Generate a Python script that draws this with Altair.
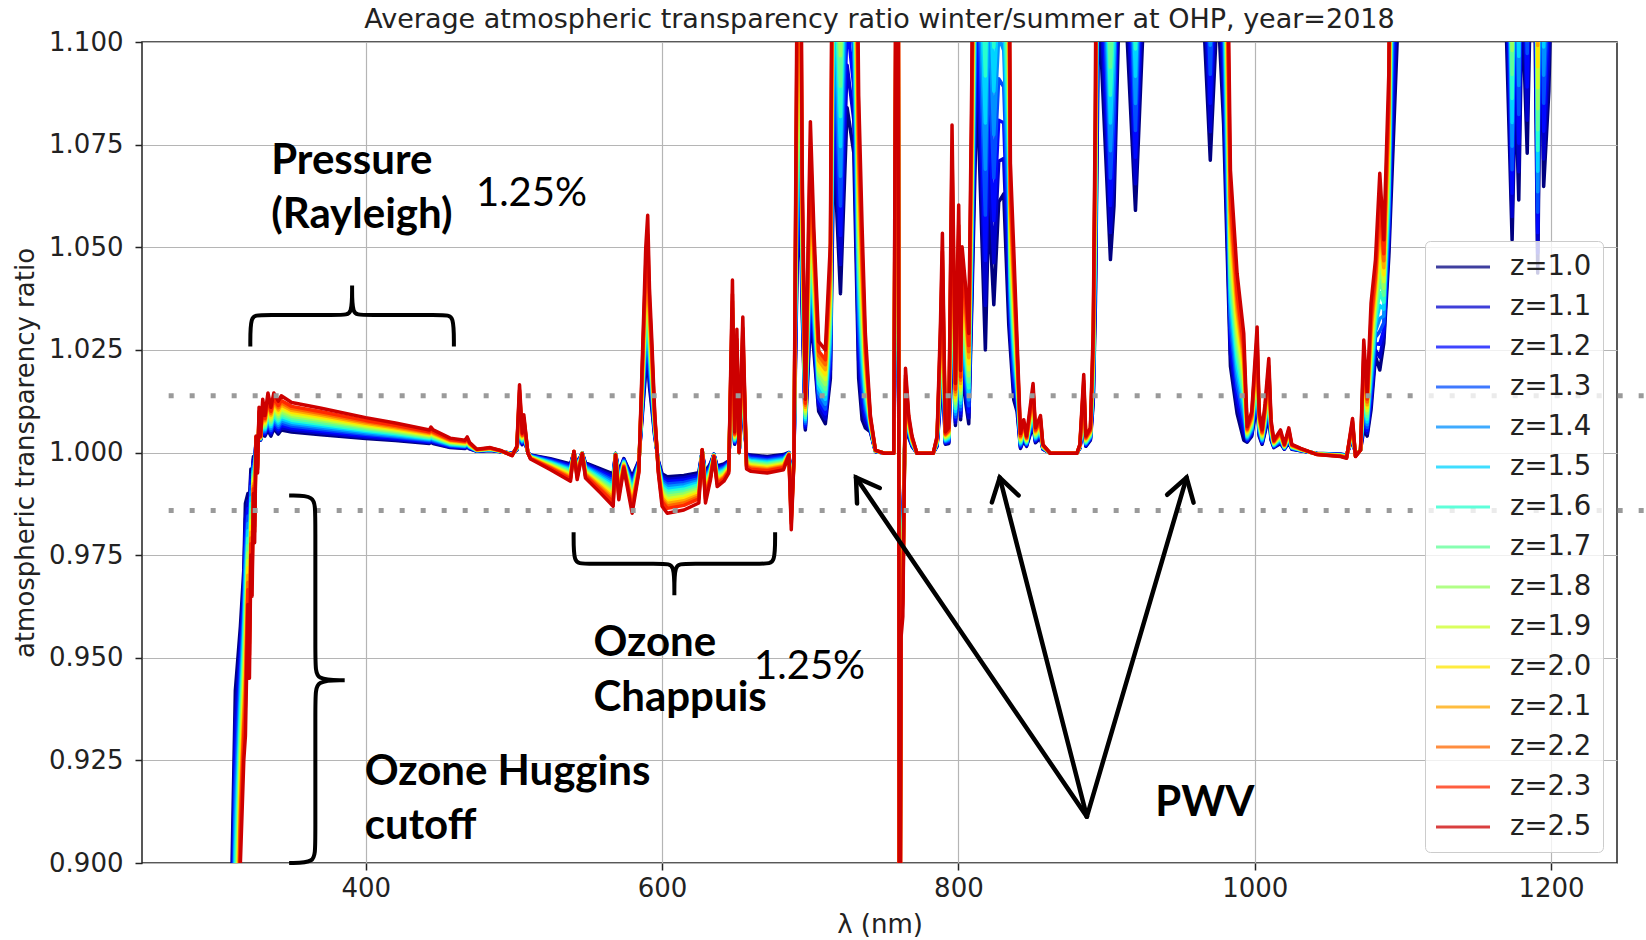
import math
import altair as alt
import pandas as pd

# ------------------------------------------------------------------ data
TITLE = "Average atmospheric transparency ratio winter/summer at OHP, year=2018"

airmass = [1.0, 1.1, 1.2, 1.3, 1.4, 1.5, 1.6, 1.7, 1.8, 1.9, 2.0, 2.1, 2.2, 2.3, 2.5]
series_labels = ["z=1.0", "z=1.1", "z=1.2", "z=1.3", "z=1.4", "z=1.5", "z=1.6", "z=1.7",
                 "z=1.8", "z=1.9", "z=2.0", "z=2.1", "z=2.2", "z=2.3", "z=2.5"]
series_colors = ["#000080", "#0000cd", "#0008ff", "#004dff", "#0090ff", "#00d4ff", "#29ffce",
                 "#60ff97", "#97ff60", "#ceff29", "#ffe600", "#ffa700", "#ff6800", "#ff2900",
                 "#cd0000"]

# wavelength (nm) and ratio read for the lowest (z=1.0) and highest (z=2.5) airmass
wavelength = [
    300.0, 309.8, 312.0, 315.4, 317.7, 318.8, 320.5, 321.5, 322.5, 323.3, 324.2, 325.0, 326.0,
    327.0, 328.0, 329.0, 330.5, 332.0, 334.0, 336.0, 338.0, 341.0, 343.0, 350.0, 370.0, 400.0,
    420.0, 443.0, 444.0, 445.5, 457.0, 467.0, 468.5, 470.0, 475.0, 484.0, 491.0, 498.8, 502.0,
    503.8, 505.6, 506.7, 509.4, 511.2, 524.7, 538.2, 540.5, 542.7, 546.1, 548.3, 558.5, 567.0,
    568.6, 570.8, 574.2, 579.8, 584.3, 587.3, 589.0, 590.3, 591.5, 593.0, 595.0, 597.5, 600.0,
    603.5, 614.7, 624.8, 627.1, 629.3, 632.7, 635.0, 637.2, 641.7, 645.0, 647.5, 649.0, 650.5,
    652.0, 654.5, 657.0, 660.0, 671.0, 682.0, 685.6, 687.2, 689.0, 691.2, 693.4, 694.5, 696.7,
    700.1, 702.4, 705.7, 710.2, 713.6, 715.9, 720.4, 724.9, 729.4, 732.7, 735.0, 737.2, 740.6,
    744.0, 750.0, 756.4, 758.6, 759.5, 760.3, 761.3, 762.5, 764.3, 766.5, 768.7, 772.0, 783.0,
    785.6, 787.9, 789.2, 791.2, 793.5, 795.7, 798.0, 800.2, 801.5, 802.5, 805.0, 807.0, 809.0,
    812.6, 818.2, 820.5, 823.9, 827.2, 830.6, 834.0, 835.1, 837.4, 839.6, 841.9, 844.1, 846.0,
    850.4, 852.0, 855.4, 857.0, 862.0, 880.0, 882.0, 884.6, 886.0, 889.1, 891.0, 892.5, 894.7,
    902.6, 905.0, 910.0, 919.5, 921.7, 930.0, 950.0, 965.0, 970.0, 975.0, 979.0, 981.4, 983.6,
    988.1, 992.6, 994.9, 998.0, 1001.6, 1003.0, 1005.0, 1007.0, 1009.5, 1011.0, 1012.9, 1017.4,
    1020.0, 1023.0, 1025.0, 1031.0, 1042.0, 1058.0, 1062.0, 1066.0, 1068.0, 1071.4, 1073.6,
    1075.9, 1078.5, 1081.5, 1084.4, 1087.1, 1090.5, 1092.7, 1096.1, 1110.0, 1140.0, 1165.0,
    1170.0, 1173.7, 1176.0, 1178.2, 1180.5, 1183.9, 1186.0, 1188.4, 1191.0, 1193.0, 1195.0,
    1198.5, 1200.0]

ratio_z10 = [
    0.780, 0.900, 0.942, 0.9576, 0.9714, 0.9876, 0.990, 0.988, 0.996, 0.995, 0.999, 0.998, 1.003,
    1.002, 1.004, 1.003, 1.0045, 1.004, 1.0055, 1.004, 1.0058, 1.0045, 1.0055, 1.005, 1.0043, 1.0034,
    1.0029, 1.0022, 1.0025, 1.0022, 1.0012, 1.0010, 1.0013, 1.0009, 1.0003, 1.0005, 1.0002, 0.9998, 1.0006,
    1.0066, 1.0019, 1.0037, 1.0000, 0.9994, 0.9985, 0.9972, 1.0000, 0.9974, 0.9999, 0.9975, 0.9960, 0.9948,
    0.9998, 0.9954, 0.9985, 0.9941, 0.9980, 1.0120, 1.0200, 1.0227, 1.0160, 1.0110, 1.0040, 0.9980, 0.9948,
    0.9941, 0.9944, 0.9951, 1.0003, 0.9951, 0.9974, 0.9996, 0.9967, 0.9972, 0.9980, 1.0166, 1.0020, 1.0120,
    1.0000, 1.0130, 0.9995, 0.9994, 0.9990, 0.9995, 1.0000, 0.9925, 0.9990, 1.0460, 1.0580, 1.0355, 1.0055,
    1.0320, 1.0250, 1.0100, 1.0070, 1.0180, 1.0750, 1.0387, 1.0840, 1.0730, 1.0180, 1.0080, 1.0060, 1.0050,
    1.0002, 0.9999, 0.9999, 1.0750, 1.0460, 0.9150, 0.9820, 0.9840, 1.0080, 1.0036, 1.0015, 0.9999, 0.9999,
    1.0015, 1.0124, 1.0208, 1.0020, 1.0022, 1.0310, 1.0066, 1.0237, 1.0080, 1.0196, 1.0120, 1.0070, 1.0350,
    1.0900, 1.0250, 1.0600, 1.0360, 1.0610, 1.0630, 1.0310, 1.0250, 1.0128, 1.0100, 1.0010, 1.0030, 1.0015,
    1.0066, 1.0024, 1.0036, 1.0008, 0.9999, 0.9999, 1.0010, 1.0075, 1.0015, 1.0030, 1.0120, 1.0370, 1.1100,
    1.0470, 1.0600, 1.1300, 1.0590, 1.0780, 1.1500, 1.1600, 1.1100, 1.0712, 1.1100, 1.0800, 1.0490, 1.0210,
    1.0095, 1.0030, 1.0025, 1.0040, 1.0121, 1.0040, 1.0020, 1.0050, 1.0090, 1.0030, 1.0012, 1.0022,
    1.0008, 1.0024, 1.0008, 1.0004, 0.9998, 0.9996, 0.9994, 1.0033, 0.9996, 1.0006, 1.0055,
    1.0040, 1.0104, 1.0234, 1.0201, 1.0266, 1.0477, 1.0680, 1.1000, 1.1700, 1.2000, 1.1700,
    1.1000, 1.0518, 1.0900, 1.0615, 1.1100, 1.0729, 1.1100, 1.1300, 1.0437, 1.1100, 1.0648,
    1.0880, 1.1100]

ratio_z25 = [
    0.550, 0.770, 0.830, 0.900, 0.925, 0.931, 0.963, 0.945, 0.975, 0.965, 0.990, 0.978, 1.004,
    0.995, 1.011, 1.004, 1.013, 1.009, 1.0145, 1.011, 1.0145, 1.0125, 1.0138, 1.0122, 1.0108, 1.0085,
    1.0072, 1.0055, 1.0062, 1.0055, 1.0035, 1.0030, 1.0038, 1.0025, 1.0008, 1.0012, 1.0005, 0.9992, 1.0015,
    1.0165, 1.0047, 1.0092, 0.9999, 0.9984, 0.9958, 0.9930, 1.0003, 0.9934, 0.9997, 0.9938, 0.9901, 0.9869,
    0.9994, 0.9885, 0.9962, 0.9852, 0.9950, 1.0300, 1.0500, 1.0578, 1.0400, 1.0280, 1.0100, 0.9950, 0.9869,
    0.9852, 0.9860, 0.9877, 1.0007, 0.9877, 0.9934, 0.9990, 0.9917, 0.9930, 0.9950, 1.0420, 1.0050, 1.0300,
    1.0000, 1.0330, 0.9960, 0.9954, 0.9950, 0.9958, 0.9994, 0.9812, 0.9980, 1.1200, 1.1500, 1.0712, 1.0130,
    1.0806, 1.0550, 1.0270, 1.0250, 1.0510, 1.2000, 1.1500, 1.2500, 1.2000, 1.0870, 1.0550, 1.0290, 1.0090,
    1.0006, 0.9998, 0.9998, 1.2000, 1.1200, 0.8000, 0.9550, 0.9600, 1.0205, 1.0090, 1.0040, 0.9998, 0.9998,
    1.0040, 1.0315, 1.0534, 1.0050, 1.0060, 1.0798, 1.0168, 1.0603, 1.0200, 1.0501, 1.0400, 1.0290, 1.0900,
    1.2500, 1.2000, 1.2500, 1.2000, 1.2200, 1.2000, 1.1500, 1.0704, 1.0490, 1.0274, 1.0046, 1.0080, 1.0040,
    1.0168, 1.0060, 1.0090, 1.0020, 0.9998, 0.9998, 1.0020, 1.0190, 1.0040, 1.0060, 1.0300, 1.0890, 1.3000,
    1.1500, 1.1800, 1.3500, 1.1600, 1.2000, 1.4000, 1.4500, 1.3000, 1.1800, 1.3000, 1.2000, 1.1300, 1.0688,
    1.0436, 1.0290, 1.0063, 1.0100, 1.0306, 1.0100, 1.0055, 1.0120, 1.0229, 1.0080, 1.0030, 1.0055,
    1.0020, 1.0060, 1.0020, 1.0010, 0.9995, 0.9990, 0.9986, 1.0083, 0.9990, 1.0006, 1.0274,
    1.0144, 1.0364, 1.0470, 1.0680, 1.0518, 1.0924, 1.2000, 1.3000, 1.5000, 1.6000, 1.5000,
    1.3000, 1.1400, 1.2500, 1.1700, 1.3000, 1.2000, 1.3000, 1.3500, 1.1200, 1.3000, 1.1700,
    1.2400, 1.3000]

# annotation content (data coordinates: nm, ratio)
dotted_levels = [1.0138, 0.9859]
dotted_from, dotted_to = 267.0, 1265.0

bold_labels = ["Pressure", "(Rayleigh)", "Ozone", "Chappuis", "Ozone Huggins", "cutoff", "PWV"]
bold_x = [336.2, 336.2, 553.7, 553.7, 399.3, 399.3, 932.8]
bold_y = [1.0711, 1.0578, 0.9537, 0.9402, 0.9222, 0.9090, 0.9146]

pct_labels = ["1.25%", "1.25%"]
pct_x = [474.4, 662.1]
pct_y = [1.0629, 0.9478]

# horizontal braces: x_left, x_right, x_center, y_ends, y_bar, y_tip
hbraces = [(322.1, 459.5, 390.8, 1.0258, 1.0335, 1.0407),
           (540.3, 676.3, 608.3, 0.9806, 0.9729, 0.9652)]
# vertical brace: y_top, y_bottom, y_center, x_ends, x_bar, x_tip
vbraces = [(0.9895, 0.9000, 0.9445, 348.3, 366.0, 385.8)]

arrow_apex = (886.7, 0.9113)
arrow_tips = [(730.9, 0.9939), (827.9, 0.9939), (954.0, 0.9939)]

# ------------------------------------------------------------------ layout
X_DOMAIN = [249.0, 1244.5]
Y_DOMAIN = [0.9, 1.1]
W, H = 1475, 821
KX = W / (X_DOMAIN[1] - X_DOMAIN[0])   # px per nm
KY = H / (Y_DOMAIN[1] - Y_DOMAIN[0])   # px per ratio unit

rows = []
for lab, z in zip(series_labels, airmass):
    t = (z - 1.0) / 1.5
    for w, b, r in zip(wavelength, ratio_z10, ratio_z25):
        v = math.exp(math.log(b) + t * (math.log(r) - math.log(b)))
        rows.append({"wl": w, "ratio": v, "airmass": lab})
df = pd.DataFrame(rows)

# brace paths
brows = []
g = 0
for (x0, x1, xc, ye, yb, yt) in hbraces:
    w = 6.0
    pts = [(x0, ye), (x0, yb), (x0 + w, yb), (xc - w, yb), (xc, yb), (xc, yt), (xc, yt), (xc, yt),
           (xc, yb), (xc + w, yb), (x1 - w, yb), (x1, yb), (x1, ye)]
    for i, (px, py) in enumerate(pts):
        brows.append({"grp": g, "seq": i, "x": px, "y": py})
    g += 1
for (y0, y1, yc, xe, xb, xt) in vbraces:
    d = 0.004
    pts = [(xe, y0), (xb, y0), (xb, y0 - d), (xb, yc + d), (xb, yc), (xt, yc), (xt, yc), (xt, yc),
           (xb, yc), (xb, yc - d), (xb, y1 + d), (xb, y1), (xe, y1)]
    for i, (px, py) in enumerate(pts):
        brows.append({"grp": g, "seq": i, "x": px, "y": py})
    g += 1
brace_df = pd.DataFrame(brows)

# arrows: shaft + open head
arows = []
g = 0
arm = 26.0
ang = math.radians(32)
for (tx, ty) in arrow_tips:
    arows.append({"grp": g, "seq": 0, "x": arrow_apex[0], "y": arrow_apex[1]})
    arows.append({"grp": g, "seq": 1, "x": tx, "y": ty})
    g += 1
    dx = (arrow_apex[0] - tx) * KX
    dy = (arrow_apex[1] - ty) * KY
    L = math.hypot(dx, dy)
    ux, uy = dx / L, dy / L
    for k, s in enumerate([1, -1]):
        c, sn = math.cos(s * ang), math.sin(s * ang)
        rx, ry = ux * c - uy * sn, ux * sn + uy * c
        pt = (tx + rx * arm / KX, ty + ry * arm / KY)
        if k == 0:
            arows.append({"grp": g, "seq": 0, "x": pt[0], "y": pt[1]})
            arows.append({"grp": g, "seq": 1, "x": tx, "y": ty})
        else:
            arows.append({"grp": g, "seq": 2, "x": pt[0], "y": pt[1]})
    g += 1
arrow_df = pd.DataFrame(arows)

dots_df = pd.DataFrame({"y": dotted_levels, "x0": [dotted_from] * 2, "x1": [dotted_to] * 2})
bold_df = pd.DataFrame({"t": bold_labels, "x": bold_x, "y": bold_y})
pct_df = pd.DataFrame({"t": pct_labels, "x": pct_x, "y": pct_y})

xs = alt.Scale(domain=X_DOMAIN, nice=False, zero=False)
ys = alt.Scale(domain=Y_DOMAIN, nice=False, zero=False)

x_axis = alt.Axis(values=[400, 600, 800, 1000, 1200], format="d", labelFontSize=26,
                  titleFontSize=26, tickSize=7, labelPadding=5, titlePadding=10,
                  titleFontWeight="normal")
y_axis = alt.Axis(values=[0.9 + 0.025 * i for i in range(9)], format=".3f", labelFontSize=26,
                  titleFontSize=26, tickSize=7, labelPadding=12, titlePadding=10,
                  titleFontWeight="normal")

lines = alt.Chart(df).mark_line(clip=True, strokeWidth=3.5, strokeJoin="round").encode(
    x=alt.X("wl:Q", scale=xs, axis=x_axis, title="λ (nm)"),
    y=alt.Y("ratio:Q", scale=ys, axis=y_axis, title="atmospheric transparency ratio"),
    color=alt.Color("airmass:N", sort=series_labels,
                    scale=alt.Scale(domain=series_labels, range=series_colors),
                    legend=alt.Legend(title=None, orient="none", legendX=1283, legendY=199,
                                      symbolType="M-2,0H2", symbolSize=729,
                                      symbolStrokeWidth=3, symbolOpacity=0.75,
                                      symbolOffset=12, labelFont="DejaVu Sans",
                                      labelFontSize=27.5, labelColor="#222222",
                                      labelOffset=32, rowPadding=11, padding=11,
                                      fillColor="rgba(255,255,255,0.8)",
                                      strokeColor="#cccccc", cornerRadius=5)),
)

rules = alt.Chart(dots_df).mark_rule(clip=False, strokeDash=[5, 16], strokeWidth=5,
                                     color="#9a9a9a").encode(
    x=alt.X("x0:Q", scale=xs), x2="x1:Q", y=alt.Y("y:Q", scale=ys))

braces = alt.Chart(brace_df).mark_line(clip=False, interpolate="basis", strokeWidth=4,
                                       color="black").encode(
    x=alt.X("x:Q", scale=xs), y=alt.Y("y:Q", scale=ys), detail="grp:N", order="seq:Q")

arrows = alt.Chart(arrow_df).mark_line(clip=False, strokeWidth=4.5, color="black",
                                       strokeCap="round", strokeJoin="miter").encode(
    x=alt.X("x:Q", scale=xs), y=alt.Y("y:Q", scale=ys), detail="grp:N", order="seq:Q")

bold_text = alt.Chart(bold_df).mark_text(align="left", baseline="middle", font="Lato",
                                         fontWeight="bold", fontSize=42, color="black").encode(
    x=alt.X("x:Q", scale=xs), y=alt.Y("y:Q", scale=ys), text="t:N")

pct_text = alt.Chart(pct_df).mark_text(align="left", baseline="middle", font="Lato",
                                       fontSize=40, color="black").encode(
    x=alt.X("x:Q", scale=xs), y=alt.Y("y:Q", scale=ys), text="t:N")

chart = alt.layer(lines, rules, braces, arrows, bold_text, pct_text).properties(
    width=W, height=H,
    title=alt.TitleParams(text=TITLE, fontSize=27, font="DejaVu Sans", fontWeight="normal",
                          color="#222222", anchor="middle", frame="group", offset=-5),
    autosize="none",
    padding={"left": 142, "top": 42, "right": 29, "bottom": 77},
    background="white",
).configure_view(stroke="#222222", strokeWidth=1.5).configure_axis(
    labelFont="DejaVu Sans", titleFont="DejaVu Sans", labelColor="#222222",
    titleColor="#222222", tickColor="#222222", tickWidth=1.5, domain=False,
    gridColor="#b5b5b5", gridWidth=1.2)

chart.save("out.html", embed_options={"renderer": "svg", "actions": False})
